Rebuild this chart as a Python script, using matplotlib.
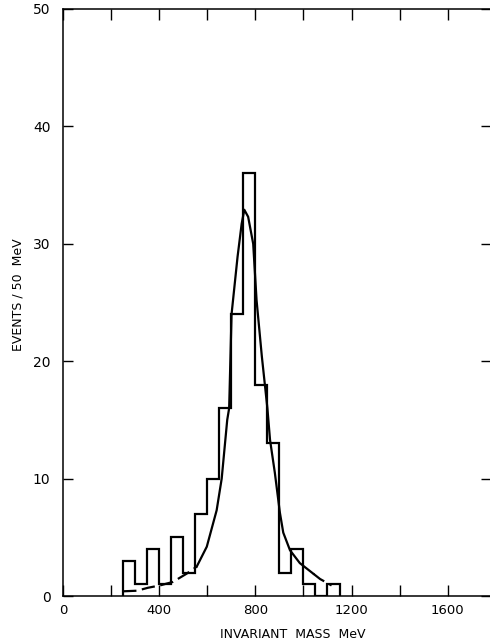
import numpy as np
import matplotlib
matplotlib.use("Agg")
import matplotlib.pyplot as plt

# histogram, 50 MeV bins starting at 250 MeV
bin_edges = np.arange(250, 1151, 50)
counts = [3, 1, 4, 1, 5, 2, 7, 10, 16, 24, 36, 18, 13, 2, 4, 1, 0, 1]

# fitted curve, points
curve_mev = [250, 308, 353, 403, 457, 514, 556, 598, 639, 660, 683, 691,
             701, 726, 743, 754, 770, 791, 805, 827, 850, 861, 881, 902,
             916, 944, 985, 1041, 1069, 1117]
curve_evt = [0.4, 0.45, 0.7, 0.9, 1.2, 1.9, 2.5, 4.2, 7.3, 10, 15, 16,
             24, 28.9, 31.7, 32.9, 32.3, 30.0, 25.2, 20.4, 16, 13.3, 10.5, 7.1,
             5.4, 3.9, 2.8, 1.9, 1.45, 0.9]
solid_from, solid_to = 556, 1041

x_ticks = np.arange(0, 1800, 200)
x_labels = ["0", "", "400", "", "800", "", "1200", "", "1600"]
y_ticks = [0, 10, 20, 30, 40, 50]

fig = plt.figure(figsize=(4.9, 6.41), dpi=100)
ax = fig.add_axes([63 / 490, 45 / 641, 428 / 490, 587 / 641])

lw = 1.6
ax.stairs(counts, bin_edges, color="black", linewidth=lw, baseline=0)

m = np.array(curve_mev)
e = np.array(curve_evt)
solid = (m >= solid_from) & (m <= solid_to)
left = m <= solid_from
right = m >= solid_to
dash = (0, (6, 2.5))
ax.plot(m[solid], e[solid], color="black", linewidth=lw)
ax.plot(m[left], e[left], color="black", linewidth=lw, linestyle=dash)
ax.plot(m[right], e[right], color="black", linewidth=lw, linestyle=dash)

ax.set_xlim(0, 1780)
ax.set_ylim(0, 50)
ax.set_xticks(x_ticks)
ax.set_xticklabels(x_labels)
ax.set_yticks(y_ticks)

ax.tick_params(axis="x", direction="in", length=8, width=1, top=True,
               labelsize=9.5, pad=6)
ax.tick_params(axis="y", direction="in", length=7, width=1, right=True,
               labelsize=10, pad=9)
for s in ax.spines.values():
    s.set_linewidth(1.1)

ax.set_xlabel("INVARIANT  MASS  MeV", fontsize=9)
ax.xaxis.set_label_coords(0.537, -0.054)
ax.set_ylabel("EVENTS / 50  MeV", fontsize=9)
ax.yaxis.set_label_coords(-0.089, 0.514)

fig.savefig("out.png", dpi=100)
